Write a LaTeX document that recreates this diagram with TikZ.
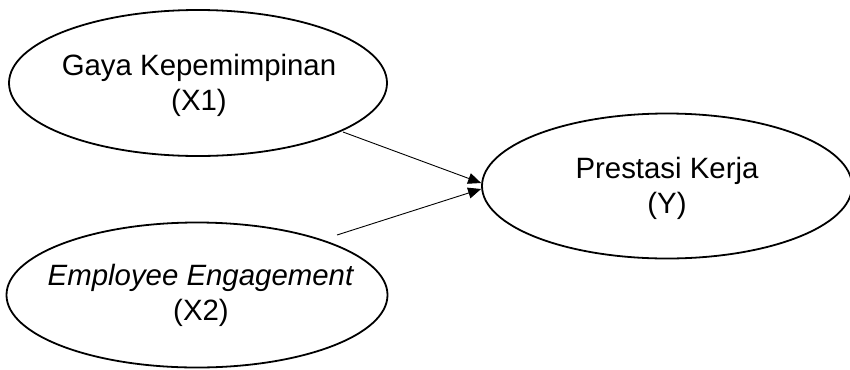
\documentclass[tikz,border=0pt]{standalone}
\usepackage{fontspec}
\setmainfont{Liberation Sans}
\usetikzlibrary{shapes.geometric,arrows.meta}
\tikzset{
  construct/.style={ellipse, draw=black, line width=1.8bp, inner sep=0pt},
  label text/.style={align=center, inner sep=0pt, font=\fontsize{29.5}{35}\selectfont},
  path/.style={draw=black, line width=0.9bp, -{Triangle[length=13bp,width=11bp]}}
}
\begin{document}
\begin{tikzpicture}[x=1bp,y=-1bp]
  \useasboundingbox (0,0) rectangle (850,369);
  % latent variables
  \node[construct, minimum width=378bp, minimum height=146bp] (x1) at (198,83) {};
  \node[construct, minimum width=381bp, minimum height=145bp] (x2) at (197,295) {};
  \node[construct, minimum width=370bp, minimum height=145bp] (y) at (667,186) {};
  \node[label text] (x1t) at (199,85) {Gaya Kepemimpinan\\(X1)};
  \node[label text] (x2t) at (201,295) {\textit{Employee Engagement}\\(X2)};
  \node[label text] (yt) at (667,188) {Prestasi Kerja\\(Y)};
  % path ends
  \coordinate (s1) at (343,132);
  \coordinate (s2) at (337,235);
  \coordinate (t1) at ([yshift=3bp]y.west);
  \coordinate (t2) at ([yshift=-3bp]y.west);
  \draw[path] (s1) -- (t1);
  \draw[path] (s2) -- (t2);
\end{tikzpicture}
\end{document}
